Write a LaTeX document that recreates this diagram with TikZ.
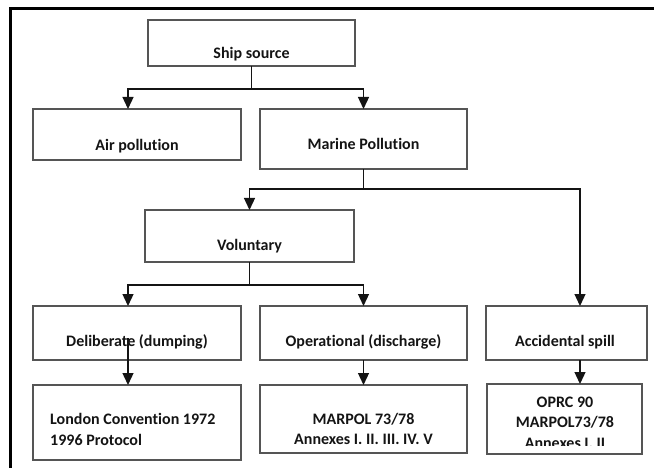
\documentclass[tikz,border=0pt]{standalone}
\usepackage{fontspec}
\setmainfont{Carlito}[Ligatures=NoCommon]
\usetikzlibrary{arrows.meta}
\definecolor{boxgray}{RGB}{85,85,85}
\definecolor{ink}{RGB}{20,20,20}
\tikzset{
  box/.style={draw=boxgray, line width=1.5pt, inner sep=0pt, outer sep=0pt},
  lbl/.style={font=\bfseries\fontsize{16}{19}\selectfont, text=ink, anchor=base, inner sep=0pt},
  conn/.style={draw=ink, line width=1.3pt},
  arr/.style={conn, -{Triangle[width=11pt,length=12pt]}},
  frameline/.style={line width=3pt, black}
}
\begin{document}
\begin{tikzpicture}[x=1pt,y=-1pt]
\useasboundingbox (0,0) rectangle (654,468);
\draw[frameline] (10,468) -- (10,9) -- (654,9);

% boxes
\node[box, minimum width=207pt, minimum height=46pt] (ship)   at (251.5,43)  {};
\node[box, minimum width=208pt, minimum height=51pt] (air)    at (137,134.5) {};
\node[box, minimum width=207pt, minimum height=60pt] (marine) at (363.5,139) {};
\node[box, minimum width=209pt, minimum height=52pt] (vol)    at (249.5,236) {};
\node[box, minimum width=208pt, minimum height=54pt] (delib)  at (137,333)   {};
\node[box, minimum width=207pt, minimum height=54pt] (oper)   at (363.5,333) {};
\node[box, minimum width=161pt, minimum height=54pt] (acc)    at (566.5,333) {};
\node[box, minimum width=208pt, minimum height=75pt] (london) at (137,422.5) {};
\node[box, minimum width=207pt, minimum height=68pt] (marpol) at (363.5,419) {};
\node[box, minimum width=155pt, minimum height=70pt] (oprc)   at (564.5,419) {};

% labels
\node[lbl] (shipT)   at (251.5,59)  {Ship source};
\node[lbl] (airT)    at (137,151)   {Air pollution};
\node[lbl] (marineT) at (363.5,150) {Marine Pollution};
\node[lbl] (volT)    at (249.5,250.5) {Voluntary};
\node[lbl] (delibT)  at (137,346)   {Deliberate (dumping)};
\node[lbl] (operT)   at (363.5,346) {Operational (discharge)};
\node[lbl] (accT)    at (565,346)   {Accidental spill};
\node[lbl, anchor=base west] (londonA) at (50,424.7) {London Convention 1972};
\node[lbl, anchor=base west] (londonB) at (50,445)   {1996 Protocol};
\node[lbl] (marpolA) at (363.5,424.7) {MARPOL 73/78};
\node[lbl] (marpolB) at (363.5,444.7) {Annexes I. II. III. IV. V};
\begin{scope}
  \clip (487,384) rectangle (642,445);
  \node[lbl] (oprcA) at (565,407) {OPRC 90};
  \node[lbl] (oprcB) at (565,427) {MARPOL73/78};
  \node[lbl] (oprcC) at (565,448) {Annexes I. II};
\end{scope}

% connectors
\path (ship.south) ++(0,23) coordinate (j1);
\draw[conn] (ship.south) -- (j1);
\draw[arr] (j1) -| ([xshift=-9pt]air.north);
\draw[arr] (j1) -| (marine.north);

\path (marine.south) ++(0,20) coordinate (j2);
\draw[conn] (marine.south) -- (j2);
\draw[arr] (j2) -| (vol.north);
\draw[arr] (j2) -| ([xshift=13.5pt]acc.north);

\path (vol.south) ++(0,23) coordinate (j3);
\draw[conn] (vol.south) -- (j3);
\draw[arr] (j3) -| ([xshift=-9pt]delib.north);
\draw[arr] (j3) -| (oper.north);

\coordinate (d1) at (128,338);
\draw[arr] (d1) -- (d1 |- london.north);
\draw[arr] (oper.south) -- (marpol.north);
\coordinate (a1) at ([xshift=13.5pt]acc.south);
\draw[arr] (a1) -- (a1 |- oprc.north);
\end{tikzpicture}
\end{document}
